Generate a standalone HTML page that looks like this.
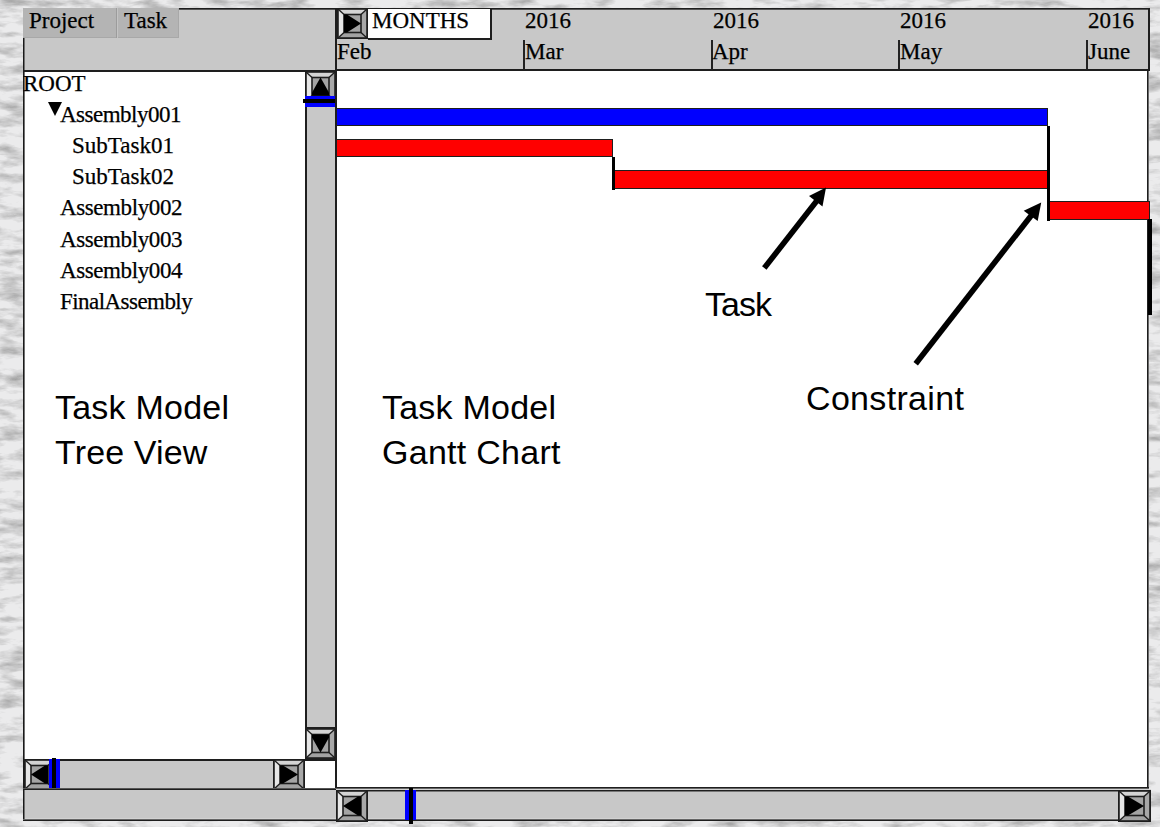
<!DOCTYPE html>
<html><head><meta charset="utf-8">
<style>
html,body{margin:0;padding:0;}
body{width:1160px;height:827px;position:relative;overflow:hidden;background:#e0e0e0;font-family:"Liberation Serif",serif;}
.a{position:absolute;box-sizing:border-box;}
.bg{left:0;top:0;width:1160px;height:827px;}
.t{position:absolute;white-space:nowrap;color:#000;line-height:1;}
.ser{font-family:"Liberation Serif",serif;font-size:23px;-webkit-text-stroke:0.25px #000;}
.ann{font-family:"Liberation Sans",sans-serif;font-size:34px;}
</style></head>
<body>
<svg class="a bg" width="1160" height="827" viewBox="0 0 1160 827">
  <defs>
    <filter id="marble" x="0" y="0" width="100%" height="100%" color-interpolation-filters="sRGB">
      <feTurbulence type="fractalNoise" baseFrequency="0.035 0.11" numOctaves="4" seed="5"/>
      <feColorMatrix type="matrix" values="0 0 0 0 0.58  0 0 0 0 0.58  0 0 0 0 0.58  1.6 0 0 0 -0.66"/>
    </filter>
  </defs>
  <rect width="1160" height="827" fill="#ebebec"/>
  <rect width="1160" height="827" fill="#000" filter="url(#marble)"/>
</svg>
<div class="a" style="left:23px;top:8px;width:313px;height:63px;background:#c8c8c8;"></div>
<div class="a" style="left:23px;top:8px;width:93px;height:30px;background:#b4b4b4;border-bottom:1px solid #a8a8a8;"></div>
<div class="a" style="left:116px;top:8px;width:1px;height:30px;background:#9c9c9c;"></div>
<div class="a" style="left:117px;top:8px;width:62px;height:30px;background:#b4b4b4;border-bottom:1px solid #a8a8a8;border-right:1px solid #a8a8a8;"></div>
<div class="a" style="left:117px;top:8px;width:1px;height:30px;background:#c4c4c4;"></div>
<div class="a" style="left:179px;top:8px;width:971px;height:1px;background:#1e1e1e;"></div>
<div class="a" style="left:179px;top:9px;width:971px;height:1px;background:#555;"></div>
<div class="a" style="left:23px;top:38px;width:1px;height:782px;background:#1a1a1a;"></div>
<div class="a" style="left:24px;top:38px;width:1px;height:782px;background:#707070;"></div>
<div class="a" style="left:23px;top:70px;width:313px;height:2px;background:#1e1e1e;"></div>
<div class="a" style="left:25px;top:72px;width:280px;height:687px;background:#fff;"></div>
<div class="a" style="left:305px;top:72px;width:31px;height:687px;background:#c8c8c8;border-left:2px solid #1e1e1e;border-right:1px solid #1e1e1e;"></div>
<svg class="a" style="left:305px;top:71px" width="31" height="31" viewBox="0 0 31 31">
<polygon points="0,0 31,0 24,6.5 7,6.5" fill="#d4d4d4"/>
<polygon points="0,0 7,6.5 7,24.5 0,31" fill="#e6e6e6"/>
<polygon points="31,0 31,31 24,24.5 24,6.5" fill="#a8a8a8"/>
<polygon points="0,31 31,31 24,24.5 7,24.5" fill="#a2a2a2"/>
<g stroke="#1e1e1e" stroke-width="1.3">
<line x1="0" y1="0" x2="7" y2="6.5"/>
<line x1="31" y1="0" x2="24" y2="6.5"/>
<line x1="0" y1="31" x2="7" y2="24.5"/>
<line x1="31" y1="31" x2="24" y2="24.5"/>
</g>
<rect x="7" y="6.5" width="17" height="18.0" fill="#a4a4a4" stroke="#1e1e1e" stroke-width="1.6"/>
<polygon points="7,24.5 7,21.5 15.5,6.5 24,21.5 24,24.5" fill="#000"/>
<rect x="0.9" y="0.9" width="29.2" height="29.2" fill="none" stroke="#1e1e1e" stroke-width="1.8"/>
</svg>
<div class="a" style="left:305px;top:96px;width:31px;height:11px;background:#0000ff;"></div>
<div class="a" style="left:303px;top:99px;width:33px;height:4px;background:#000;"></div>
<div class="a" style="left:305px;top:727px;width:31px;height:2px;background:#1e1e1e;"></div>
<svg class="a" style="left:305px;top:728px" width="31" height="31" viewBox="0 0 31 31">
<polygon points="0,0 31,0 24,6.5 7,6.5" fill="#d4d4d4"/>
<polygon points="0,0 7,6.5 7,24.5 0,31" fill="#e6e6e6"/>
<polygon points="31,0 31,31 24,24.5 24,6.5" fill="#a8a8a8"/>
<polygon points="0,31 31,31 24,24.5 7,24.5" fill="#a2a2a2"/>
<g stroke="#1e1e1e" stroke-width="1.3">
<line x1="0" y1="0" x2="7" y2="6.5"/>
<line x1="31" y1="0" x2="24" y2="6.5"/>
<line x1="0" y1="31" x2="7" y2="24.5"/>
<line x1="31" y1="31" x2="24" y2="24.5"/>
</g>
<rect x="7" y="6.5" width="17" height="18.0" fill="#a4a4a4" stroke="#1e1e1e" stroke-width="1.6"/>
<polygon points="7,6.5 7,9.5 15.5,24.5 24,9.5 24,6.5" fill="#000"/>
<rect x="0.9" y="0.9" width="29.2" height="29.2" fill="none" stroke="#1e1e1e" stroke-width="1.8"/>
</svg>
<div class="a" style="left:23px;top:759px;width:313px;height:2px;background:#1e1e1e;"></div>
<div class="a" style="left:25px;top:761px;width:280px;height:28px;background:#c8c8c8;"></div>
<svg class="a" style="left:24px;top:759px" width="31" height="31" viewBox="0 0 31 31">
<polygon points="0,0 31,0 24,6.5 7,6.5" fill="#d4d4d4"/>
<polygon points="0,0 7,6.5 7,24.5 0,31" fill="#e6e6e6"/>
<polygon points="31,0 31,31 24,24.5 24,6.5" fill="#a8a8a8"/>
<polygon points="0,31 31,31 24,24.5 7,24.5" fill="#a2a2a2"/>
<g stroke="#1e1e1e" stroke-width="1.3">
<line x1="0" y1="0" x2="7" y2="6.5"/>
<line x1="31" y1="0" x2="24" y2="6.5"/>
<line x1="0" y1="31" x2="7" y2="24.5"/>
<line x1="31" y1="31" x2="24" y2="24.5"/>
</g>
<rect x="7" y="6.5" width="17" height="18.0" fill="#a4a4a4" stroke="#1e1e1e" stroke-width="1.6"/>
<polygon points="24,6.5 21,6.5 7,15.5 21,24.5 24,24.5" fill="#000"/>
<rect x="0.9" y="0.9" width="29.2" height="29.2" fill="none" stroke="#1e1e1e" stroke-width="1.8"/>
</svg>
<div class="a" style="left:49px;top:759px;width:11px;height:31px;background:#0000ff;"></div>
<div class="a" style="left:52px;top:758px;width:4px;height:34px;background:#000;"></div>
<svg class="a" style="left:273px;top:759px" width="32" height="31" viewBox="0 0 32 31">
<polygon points="0,0 32,0 25,6.5 7,6.5" fill="#d4d4d4"/>
<polygon points="0,0 7,6.5 7,24.5 0,31" fill="#e6e6e6"/>
<polygon points="32,0 32,31 25,24.5 25,6.5" fill="#a8a8a8"/>
<polygon points="0,31 32,31 25,24.5 7,24.5" fill="#a2a2a2"/>
<g stroke="#1e1e1e" stroke-width="1.3">
<line x1="0" y1="0" x2="7" y2="6.5"/>
<line x1="32" y1="0" x2="25" y2="6.5"/>
<line x1="0" y1="31" x2="7" y2="24.5"/>
<line x1="32" y1="31" x2="25" y2="24.5"/>
</g>
<rect x="7" y="6.5" width="18" height="18.0" fill="#a4a4a4" stroke="#1e1e1e" stroke-width="1.6"/>
<polygon points="7,6.5 10,6.5 25,15.5 10,24.5 7,24.5" fill="#000"/>
<rect x="0.9" y="0.9" width="30.2" height="29.2" fill="none" stroke="#1e1e1e" stroke-width="1.8"/>
</svg>
<div class="a" style="left:305px;top:761px;width:31px;height:28px;background:#fff;"></div>
<div class="a" style="left:335px;top:71px;width:2px;height:719px;background:#1e1e1e;"></div>
<div class="a" style="left:23px;top:788px;width:313px;height:1px;background:#555;"></div>
<div class="a" style="left:23px;top:789px;width:313px;height:1px;background:#1e1e1e;"></div>
<div class="a" style="left:25px;top:790px;width:311px;height:29px;background:#c8c8c8;"></div>
<div class="a" style="left:25px;top:818px;width:311px;height:1px;background:#d2d2d2;"></div>
<div class="a" style="left:23px;top:819px;width:313px;height:1px;background:#666;"></div>
<div class="a" style="left:23px;top:820px;width:313px;height:1px;background:#1e1e1e;"></div>
<div class="a" style="left:337px;top:10px;width:811px;height:60px;background:#c8c8c8;"></div>
<div class="a" style="left:335px;top:8px;width:2px;height:63px;background:#1e1e1e;"></div>
<div class="a" style="left:1148px;top:8px;width:2px;height:63px;background:#1e1e1e;"></div>
<div class="a" style="left:335px;top:69px;width:815px;height:2px;background:#1e1e1e;"></div>
<svg class="a" style="left:337px;top:8px" width="31" height="31" viewBox="0 0 31 31">
<polygon points="0,0 31,0 24,6.5 7,6.5" fill="#d4d4d4"/>
<polygon points="0,0 7,6.5 7,24.5 0,31" fill="#e6e6e6"/>
<polygon points="31,0 31,31 24,24.5 24,6.5" fill="#a8a8a8"/>
<polygon points="0,31 31,31 24,24.5 7,24.5" fill="#a2a2a2"/>
<g stroke="#1e1e1e" stroke-width="1.3">
<line x1="0" y1="0" x2="7" y2="6.5"/>
<line x1="31" y1="0" x2="24" y2="6.5"/>
<line x1="0" y1="31" x2="7" y2="24.5"/>
<line x1="31" y1="31" x2="24" y2="24.5"/>
</g>
<rect x="7" y="6.5" width="17" height="18.0" fill="#a4a4a4" stroke="#1e1e1e" stroke-width="1.6"/>
<polygon points="7,6.5 10,6.5 24,15.5 10,24.5 7,24.5" fill="#000"/>
<rect x="0.9" y="0.9" width="29.2" height="29.2" fill="none" stroke="#1e1e1e" stroke-width="1.8"/>
</svg>
<div class="a" style="left:368px;top:9px;width:124px;height:31px;background:#fff;border-right:2px solid #1e1e1e;border-bottom:2px solid #1e1e1e;"></div>
<div class="a" style="left:337px;top:71px;width:810px;height:716px;background:#fff;"></div>
<div class="a" style="left:1147px;top:71px;width:1px;height:717px;background:#1e1e1e;"></div>
<div class="a" style="left:1148px;top:71px;width:1px;height:717px;background:#6a6a6a;"></div>
<div class="a" style="left:335px;top:787px;width:814px;height:1px;background:#1e1e1e;"></div>
<div class="a" style="left:335px;top:788px;width:814px;height:1px;background:#666;"></div>
<div class="a" style="left:523px;top:40px;width:2px;height:30px;background:#222;"></div>
<div class="a" style="left:711px;top:40px;width:2px;height:30px;background:#222;"></div>
<div class="a" style="left:898px;top:40px;width:2px;height:30px;background:#222;"></div>
<div class="a" style="left:1086px;top:40px;width:2px;height:30px;background:#222;"></div>
<div class="a" style="left:337px;top:108px;width:711px;height:18px;background:#0000ff;border-top:1px solid #1e1e1e;border-bottom:1px solid #1e1e1e;border-right:1px solid #1e1e1e;"></div>
<div class="a" style="left:337px;top:139px;width:276px;height:18px;background:#ff0000;border-top:1px solid #1e1e1e;border-bottom:1px solid #1e1e1e;border-right:1px solid #1e1e1e;"></div>
<div class="a" style="left:614px;top:170px;width:434px;height:19px;background:#ff0000;border:1px solid #1e1e1e;"></div>
<div class="a" style="left:1049px;top:201px;width:101px;height:19px;background:#ff0000;border:1px solid #1e1e1e;"></div>
<div class="a" style="left:612px;top:157px;width:3px;height:33px;background:#000;"></div>
<div class="a" style="left:1047px;top:126px;width:3px;height:95px;background:#000;"></div>
<div class="a" style="left:1148px;top:219px;width:4px;height:96px;background:#000;"></div>
<div class="a" style="left:336px;top:789px;width:815px;height:1px;background:#d4d4d4;"></div>
<div class="a" style="left:336px;top:790px;width:815px;height:1px;background:#1e1e1e;"></div>
<div class="a" style="left:336px;top:791px;width:815px;height:1px;background:#777;"></div>
<div class="a" style="left:336px;top:792px;width:815px;height:27px;background:#c8c8c8;"></div>
<div class="a" style="left:336px;top:818px;width:815px;height:1px;background:#d2d2d2;"></div>
<div class="a" style="left:336px;top:819px;width:815px;height:1px;background:#666;"></div>
<div class="a" style="left:336px;top:820px;width:815px;height:1px;background:#1e1e1e;"></div>
<svg class="a" style="left:336px;top:790px" width="32" height="32" viewBox="0 0 32 32">
<polygon points="0,0 32,0 25,6.5 7,6.5" fill="#d4d4d4"/>
<polygon points="0,0 7,6.5 7,25.5 0,32" fill="#e6e6e6"/>
<polygon points="32,0 32,32 25,25.5 25,6.5" fill="#a8a8a8"/>
<polygon points="0,32 32,32 25,25.5 7,25.5" fill="#a2a2a2"/>
<g stroke="#1e1e1e" stroke-width="1.3">
<line x1="0" y1="0" x2="7" y2="6.5"/>
<line x1="32" y1="0" x2="25" y2="6.5"/>
<line x1="0" y1="32" x2="7" y2="25.5"/>
<line x1="32" y1="32" x2="25" y2="25.5"/>
</g>
<rect x="7" y="6.5" width="18" height="19.0" fill="#a4a4a4" stroke="#1e1e1e" stroke-width="1.6"/>
<polygon points="25,6.5 22,6.5 7,16.0 22,25.5 25,25.5" fill="#000"/>
<rect x="0.9" y="0.9" width="30.2" height="30.2" fill="none" stroke="#1e1e1e" stroke-width="1.8"/>
</svg>
<div class="a" style="left:405px;top:790px;width:11px;height:30px;background:#0000ff;"></div>
<div class="a" style="left:409px;top:788px;width:4px;height:36px;background:#000;"></div>
<svg class="a" style="left:1118px;top:790px" width="33" height="32" viewBox="0 0 33 32">
<polygon points="0,0 33,0 26,6.5 7,6.5" fill="#d4d4d4"/>
<polygon points="0,0 7,6.5 7,25.5 0,32" fill="#e6e6e6"/>
<polygon points="33,0 33,32 26,25.5 26,6.5" fill="#a8a8a8"/>
<polygon points="0,32 33,32 26,25.5 7,25.5" fill="#a2a2a2"/>
<g stroke="#1e1e1e" stroke-width="1.3">
<line x1="0" y1="0" x2="7" y2="6.5"/>
<line x1="33" y1="0" x2="26" y2="6.5"/>
<line x1="0" y1="32" x2="7" y2="25.5"/>
<line x1="33" y1="32" x2="26" y2="25.5"/>
</g>
<rect x="7" y="6.5" width="19" height="19.0" fill="#a4a4a4" stroke="#1e1e1e" stroke-width="1.6"/>
<polygon points="7,6.5 10,6.5 26,16.0 10,25.5 7,25.5" fill="#000"/>
<rect x="0.9" y="0.9" width="31.2" height="30.2" fill="none" stroke="#1e1e1e" stroke-width="1.8"/>
</svg>
<div class="t ser" style="left:29px;top:9px;">Project</div>
<div class="t ser" style="left:124px;top:9px;">Task</div>
<div class="t ser" style="left:372px;top:9px;">MONTHS</div>
<div class="t ser" style="left:525px;top:9px;">2016</div>
<div class="t ser" style="left:713px;top:9px;">2016</div>
<div class="t ser" style="left:900px;top:9px;">2016</div>
<div class="t ser" style="left:1088px;top:9px;">2016</div>
<div class="t ser" style="left:337px;top:40px;">Feb</div>
<div class="t ser" style="left:525px;top:40px;">Mar</div>
<div class="t ser" style="left:712px;top:40px;">Apr</div>
<div class="t ser" style="left:900px;top:40px;">May</div>
<div class="t ser" style="left:1088px;top:40px;">June</div>
<div class="t ser" style="left:23px;top:72px;">ROOT</div>
<div class="t ser" style="left:60px;top:103px;letter-spacing:-0.5px;">Assembly001</div>
<div class="t ser" style="left:72px;top:134px;">SubTask01</div>
<div class="t ser" style="left:72px;top:165px;">SubTask02</div>
<div class="t ser" style="left:60px;top:196px;letter-spacing:-0.4px;">Assembly002</div>
<div class="t ser" style="left:60px;top:228px;letter-spacing:-0.4px;">Assembly003</div>
<div class="t ser" style="left:60px;top:259px;letter-spacing:-0.4px;">Assembly004</div>
<div class="t ser" style="left:60px;top:290px;letter-spacing:-0.55px;">FinalAssembly</div>
<svg class="a" style="left:0;top:0" width="80" height="130"><polygon points="48,102 62,102 55,116" fill="#000"/></svg>
<div class="t ann" style="left:55px;top:390px;letter-spacing:0.22px;">Task Model</div>
<div class="t ann" style="left:55px;top:435px;letter-spacing:0.15px;">Tree View</div>
<div class="t ann" style="left:382px;top:390px;letter-spacing:0.22px;">Task Model</div>
<div class="t ann" style="left:382px;top:435px;letter-spacing:0.27px;">Gantt Chart</div>
<div class="t ann" style="left:705px;top:287px;letter-spacing:-1px;">Task</div>
<div class="t ann" style="left:806px;top:381px;letter-spacing:0.33px;">Constraint</div>
<svg class="a" style="left:0;top:0" width="1160" height="827">
  <line x1="764.3" y1="268" x2="819" y2="198" stroke="#000" stroke-width="5.6"/>
  <polygon points="826,187.5 809,196 822.5,206.6" fill="#000"/>
  <line x1="915.7" y1="363.8" x2="1034" y2="212" stroke="#000" stroke-width="5.6"/>
  <polygon points="1041.2,202.6 1023.7,210.7 1037.7,221.1" fill="#000"/>
</svg>
</body></html>
